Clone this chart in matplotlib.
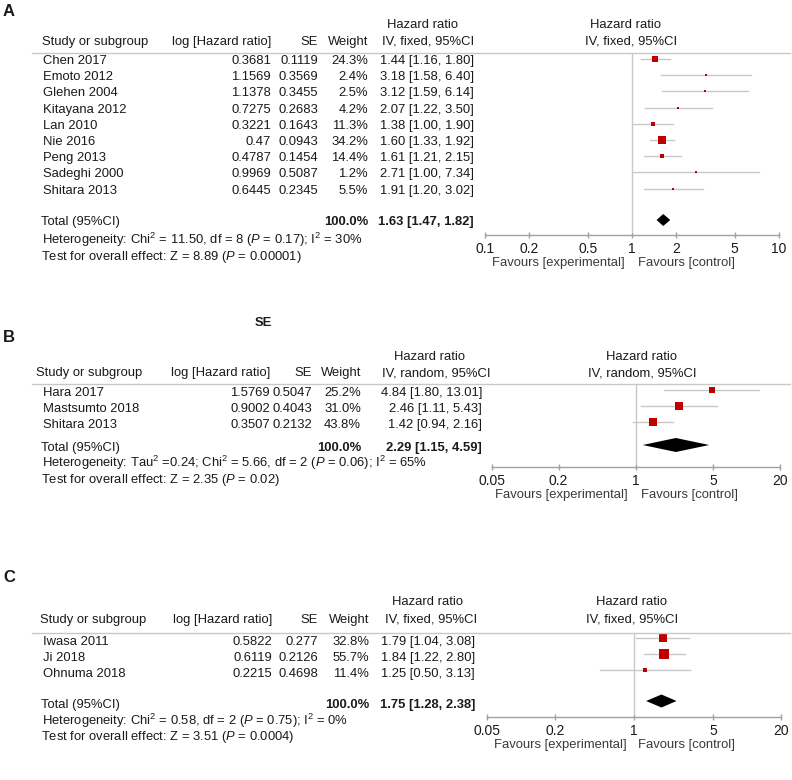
import matplotlib
matplotlib.use("Agg")
import matplotlib.pyplot as plt
from matplotlib.lines import Line2D
from matplotlib.patches import Polygon
import numpy as np

plt.rcParams['font.family'] = ['Liberation Sans', 'DejaVu Sans']
plt.rcParams['mathtext.fontset'] = 'custom'
plt.rcParams['mathtext.rm'] = 'Liberation Sans'
plt.rcParams['mathtext.it'] = 'Liberation Sans:italic'
plt.rcParams['mathtext.bf'] = 'Liberation Sans:bold'

# ---------------- data ----------------
a_studies = ["Chen 2017", "Emoto 2012", "Glehen 2004", "Kitayana 2012", "Lan 2010",
             "Nie 2016", "Peng 2013", "Sadeghi 2000", "Shitara 2013"]
a_loghr = ["0.3681", "1.1569", "1.1378", "0.7275", "0.3221", "0.47", "0.4787", "0.9969", "0.6445"]
a_se = ["0.1119", "0.3569", "0.3455", "0.2683", "0.1643", "0.0943", "0.1454", "0.5087", "0.2345"]
a_weight = [24.3, 2.4, 2.5, 4.2, 11.3, 34.2, 14.4, 1.2, 5.5]
a_hr = [1.44, 3.18, 3.12, 2.07, 1.38, 1.60, 1.61, 2.71, 1.91]
a_lo = [1.16, 1.58, 1.59, 1.22, 1.00, 1.33, 1.21, 1.00, 1.20]
a_hi = [1.80, 6.40, 6.14, 3.50, 1.90, 1.92, 2.15, 7.34, 3.02]
a_total = (1.63, 1.47, 1.82)
a_het = r"Heterogeneity: Chi$^{2}$ = 11.50, df = 8 ($P$ = 0.17); I$^{2}$ = 30%"
a_test = r"Test for overall effect: Z = 8.89 ($P$ = 0.00001)"
a_ticks = [0.1, 0.2, 0.5, 1, 2, 5, 10]
a_ticklabels = ["0.1", "0.2", "0.5", "1", "2", "5", "10"]

b_studies = ["Hara 2017", "Mastsumto 2018", "Shitara 2013"]
b_loghr = ["1.5769", "0.9002", "0.3507"]
b_se = ["0.5047", "0.4043", "0.2132"]
b_weight = [25.2, 31.0, 43.8]
b_hr = [4.84, 2.46, 1.42]
b_lo = [1.80, 1.11, 0.94]
b_hi = [13.01, 5.43, 2.16]
b_total = (2.29, 1.15, 4.59)
b_het = r"Heterogeneity: Tau$^{2}$ =0.24; Chi$^{2}$ = 5.66, df = 2 ($P$ = 0.06); I$^{2}$ = 65%"
b_test = r"Test for overall effect: Z = 2.35 ($P$ = 0.02)"
b_ticks = [0.05, 0.2, 1, 5, 20]
b_ticklabels = ["0.05", "0.2", "1", "5", "20"]

c_studies = ["Iwasa 2011", "Ji 2018", "Ohnuma 2018"]
c_loghr = ["0.5822", "0.6119", "0.2215"]
c_se = ["0.277", "0.2126", "0.4698"]
c_weight = [32.8, 55.7, 11.4]
c_hr = [1.79, 1.84, 1.25]
c_lo = [1.04, 1.22, 0.50]
c_hi = [3.08, 2.80, 3.13]
c_total = (1.75, 1.28, 2.38)
c_het = r"Heterogeneity: Chi$^{2}$ = 0.58, df = 2 ($P$ = 0.75); I$^{2}$ = 0%"
c_test = r"Test for overall effect: Z = 3.51 ($P$ = 0.0004)"
c_ticks = [0.05, 0.2, 1, 5, 20]
c_ticklabels = ["0.05", "0.2", "1", "5", "20"]

# ---------------- layout helpers ----------------
W, H = 792, 780
fig = plt.figure(figsize=(W / 100, H / 100), dpi=100)
FS = 9.4
TXT = '#1a1a1a'
RED = '#C00000'
GRID = '#c8c8c8'


def T(x, y, s, ha='left', bold=False, size=FS, color=TXT):
    fig.text(x / W, 1 - y / H, s, ha=ha, va='center', fontsize=size,
             fontweight='bold' if bold else 'normal', color=color)


def hline(x0, x1, y, color=GRID, lw=1.0):
    fig.add_artist(Line2D([x0 / W, x1 / W], [1 - y / H, 1 - y / H],
                          color=color, lw=lw, transform=fig.transFigure))


def panel(label, label_y, hdr1_y, hdr2_y, sep_y, row0, dy, total_y, het_y, test_y,
          cols, hrcol, hdr_centers, studies, loghr, se, weight, hr, lo, hi, total,
          het, test, method, axbox, xlim, ticks, ticklabels, tick_y, fav_y, fav_off,
          plot_hdr_center, sq_scale, mark_off, dia_h):
    study_x, hdr_study_x, loghr_r, se_r, w_r = cols
    T(3, label_y, label, bold=True, size=12)
    # headers
    T(hdr_centers[0], hdr1_y, "Hazard ratio", ha='center')
    T(hdr_centers[1], hdr2_y, f"IV, {method}, 95%CI", ha='center')
    T(plot_hdr_center[0], hdr1_y, "Hazard ratio", ha='center')
    T(plot_hdr_center[1], hdr2_y, f"IV, {method}, 95%CI", ha='center')
    T(hdr_study_x, hdr2_y, "Study or subgroup")
    T(loghr_r, hdr2_y, "log [Hazard ratio]", ha='right')
    T(se_r, hdr2_y, "SE", ha='right')
    T(w_r, hdr2_y, "Weight", ha='right')
    hline(32, 790, sep_y)
    # rows
    for i, name in enumerate(studies):
        y = row0 + dy * i
        T(study_x, y, name)
        T(loghr_r, y, loghr[i], ha='right')
        T(se_r, y, se[i], ha='right')
        T(w_r, y, f"{weight[i]:.1f}%", ha='right')
        T(hrcol, y, f"{hr[i]:.2f} [{lo[i]:.2f}, {hi[i]:.2f}]", ha='right')
    T(study_x - 2, total_y, "Total (95%CI)")
    T(w_r, total_y, "100.0%", ha='right', bold=True)
    T(hrcol, total_y, f"{total[0]:.2f} [{total[1]:.2f}, {total[2]:.2f}]", ha='right', bold=True)
    T(study_x - 1, het_y, het)
    T(study_x - 2, test_y, test)

    # forest plot axes
    x0, x1, axis_y = axbox
    ax = fig.add_axes([x0 / W, 1 - axis_y / H, (x1 - x0) / W, (axis_y - sep_y) / H])
    ax.set_xscale('log')
    ax.set_xlim(*xlim)
    ax.set_ylim(axis_y, sep_y)
    ax.patch.set_alpha(0)
    for s in ['top', 'right', 'left']:
        ax.spines[s].set_visible(False)
    ax.spines['bottom'].set_color('#a0a0a0')
    ax.spines['bottom'].set_linewidth(1.0)
    ax.set_yticks([])
    ax.set_xticks(ticks)
    ax.set_xticklabels(ticklabels)
    ax.xaxis.set_minor_locator(matplotlib.ticker.NullLocator())
    pad = (tick_y - axis_y - 6) / 1.389 - 2.5
    ax.tick_params(axis='x', direction='inout', length=5, width=1.0, color='#a0a0a0',
                   labelsize=FS + 0.6, labelcolor=TXT, pad=pad)
    ax.plot([1, 1], [sep_y, axis_y - 4], color=GRID, lw=1.0)
    for i in range(len(studies)):
        y = row0 + dy * i + mark_off
        ax.plot([lo[i], hi[i]], [y, y], color=GRID, lw=1.0)
        side_px = max(2.2, sq_scale * np.sqrt(weight[i]))
        ax.plot([hr[i]], [y], marker='s', markersize=side_px * 0.72, color=RED,
                markeredgewidth=0, linestyle='none')
    ty = total_y + mark_off
    ax.add_patch(Polygon([[total[1], ty], [total[0], ty - dia_h], [total[2], ty],
                          [total[0], ty + dia_h]], closed=True, color='black', lw=0))
    # favours labels
    one_px = x0 + (x1 - x0) * (np.log10(1) - np.log10(xlim[0])) / (np.log10(xlim[1]) - np.log10(xlim[0]))
    T(one_px - fav_off[0], fav_y, "Favours [experimental]", ha='right', color='#3a3a3a')
    T(one_px + fav_off[1], fav_y, "Favours [control]", ha='left', color='#3a3a3a')
    return ax


# Panel A
panel("A", 12, 25, 42, 53, 61, 16.2, 222, 240, 257,
      (43, 42, 271, 318, 368), 474, (422, 428),
      a_studies, a_loghr, a_se, a_weight, a_hr, a_lo, a_hi, a_total, a_het, a_test, "fixed",
      (485, 779, 235), (0.1, 10), a_ticks, a_ticklabels, 248, 263, (7, 6),
      (626, 631), 1.25, -2, 6)

# stray bold label
T(263, 323, "SE", ha='center', bold=True)

# Panel B
panel("B", 337, 357, 373, 384, 393, 16, 448, 463, 480,
      (43, 36, 270, 312, 361), 482, (430, 436),
      b_studies, b_loghr, b_se, b_weight, b_hr, b_lo, b_hi, b_total, b_het, b_test, "random",
      (492, 780, 467), (0.05, 20), b_ticks, b_ticklabels, 480, 495, (8, 5),
      (642, 642), 1.3, -3, 7)

# Panel C
panel("C", 577, 602, 620, 633, 642, 16, 705, 721, 737,
      (43, 40, 272, 318, 369), 475, (427, 431),
      c_studies, c_loghr, c_se, c_weight, c_hr, c_lo, c_hi, c_total, c_het, c_test, "fixed",
      (487, 781, 717), (0.05, 20), c_ticks, c_ticklabels, 730, 745, (7, 4),
      (631, 632), 1.4, -4, 6.5)

fig.savefig("out.png", dpi=100, facecolor='white')
